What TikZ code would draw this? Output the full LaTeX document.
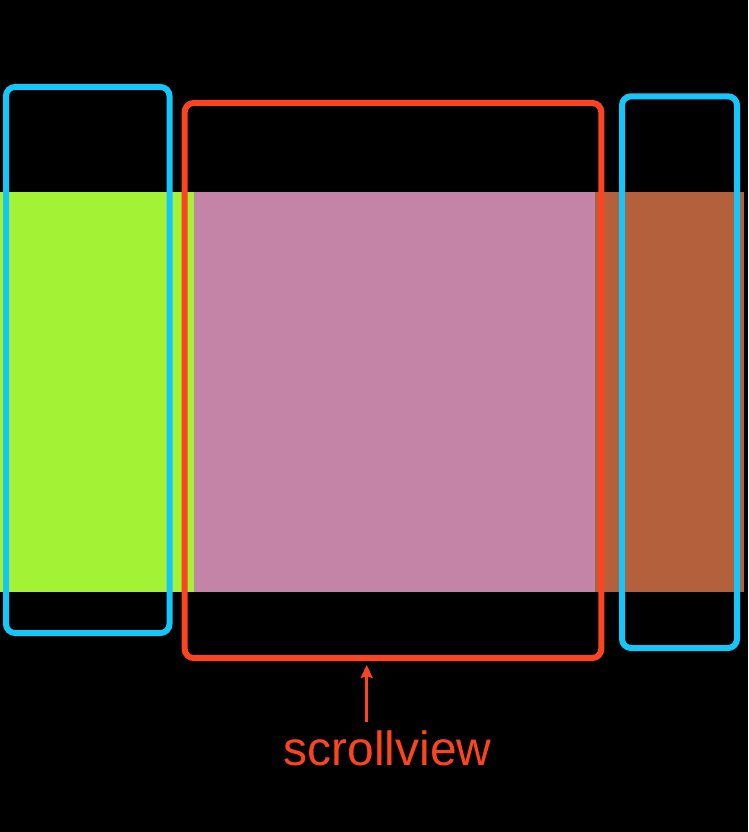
\documentclass[tikz,border=0pt]{standalone}
\usepackage{fontspec}
\setmainfont{Liberation Sans}
\usetikzlibrary{arrows.meta}
\definecolor{bandgreen}{HTML}{A4F236}
\definecolor{bandpink}{HTML}{C484A8}
\definecolor{bandbrown}{HTML}{B5603C}
\definecolor{framecyan}{HTML}{14C6FA}
\definecolor{framered}{HTML}{FC4520}
\tikzset{
  band/.style={rectangle, draw=none, inner sep=0pt, outer sep=0pt},
  frame/.style={rectangle, inner sep=0pt, line width=6pt, rounded corners=9pt, fill=none},
}
\begin{document}
\begin{tikzpicture}[x=1pt,y=-1pt]
\fill[black] (0,0) rectangle (748,832);
\useasboundingbox (0,0) rectangle (748,832);
% bands
\node[band, fill=bandgreen, minimum width=193.5pt, minimum height=399.5pt] (green) at (96.75,391.75) {};
\node[band, fill=bandpink, minimum width=401pt, minimum height=399.5pt] (pink) at (394,391.75) {};
\node[band, fill=bandbrown, minimum width=149.5pt, minimum height=399.5pt] (brown) at (669.25,391.75) {};
% frames
\node[frame, draw=framecyan, minimum width=163.5pt, minimum height=546pt] (leftframe) at (87.75,360) {};
\node[frame, draw=framered, minimum width=416.6pt, minimum height=555pt] (scrollframe) at (393,380.5) {};
\node[frame, draw=framecyan, minimum width=115pt, minimum height=551.7pt] (rightframe) at (679.5,372.15) {};
% label
\node[text=framered, font=\fontsize{48}{56}\selectfont, anchor=base, inner sep=0pt] (label) at (387.5,765) {scrollview};
\coordinate (arrowstart) at (366.7,722);
\draw[framered, line width=3pt, -{Stealth[length=13pt,width=12pt,inset=2pt]}] (arrowstart) -- ([yshift=-4pt]scrollframe.south -| arrowstart);
\end{tikzpicture}
\end{document}
